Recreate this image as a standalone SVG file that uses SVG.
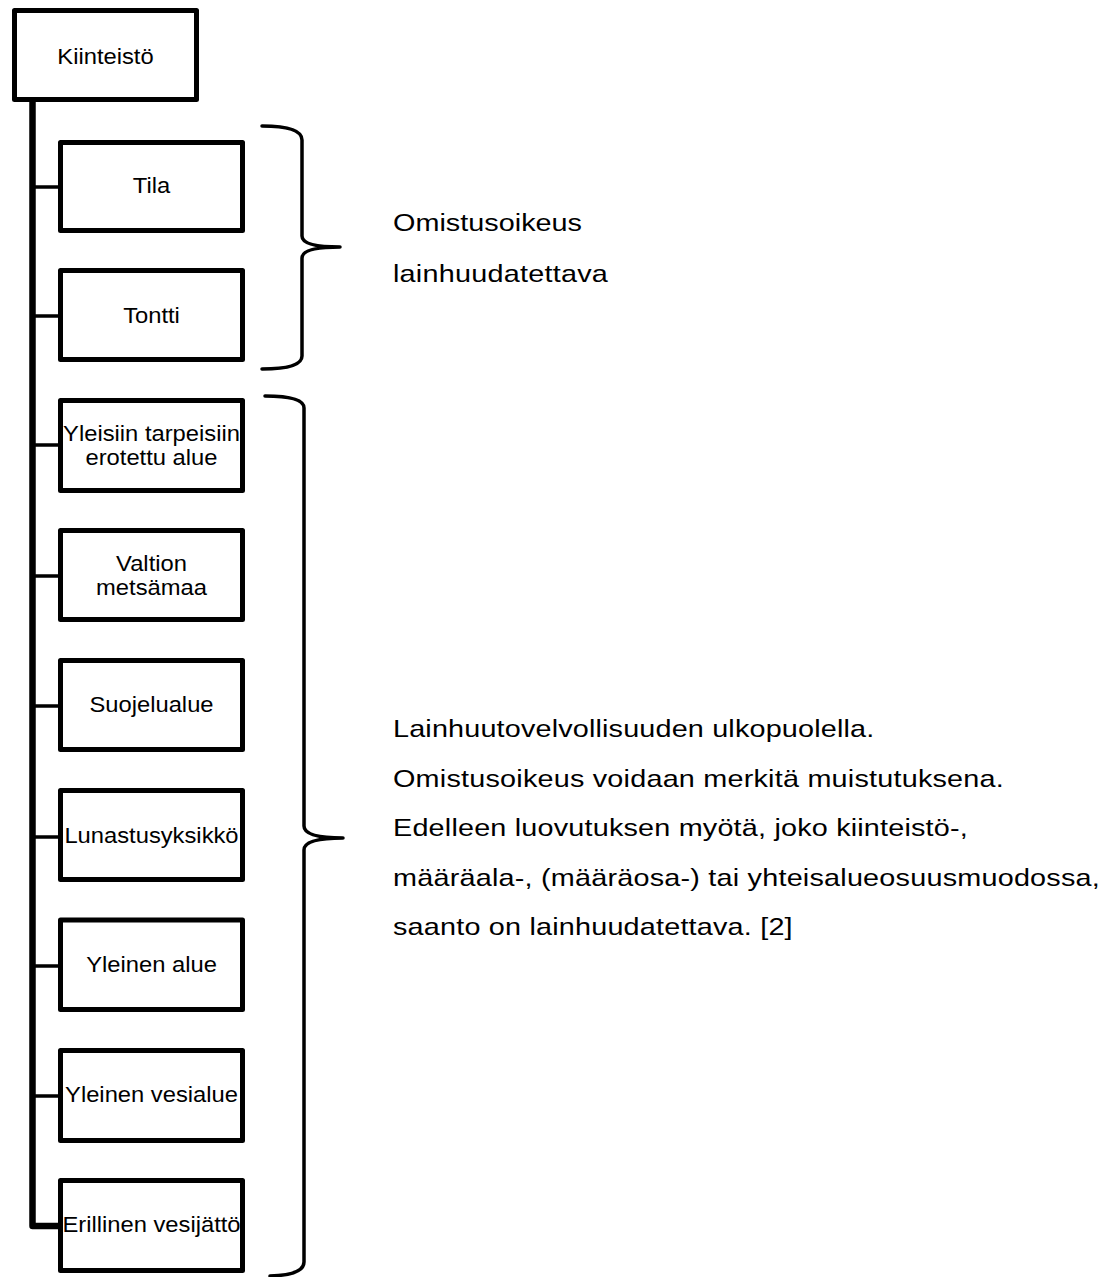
<svg xmlns="http://www.w3.org/2000/svg" width="1120" height="1277" viewBox="0 0 1120 1277">
<style>
.box{fill:#fff;stroke:#000;stroke-width:5;stroke-linejoin:round}
.bt{font-family:"Liberation Sans",Arial,sans-serif;font-size:22px;fill:#000;text-anchor:middle}
.rt{font-family:"Liberation Sans",Arial,sans-serif;font-size:24px;fill:#000}
.br{fill:none;stroke:#000;stroke-width:3.5;stroke-linecap:round;stroke-linejoin:round}
.trunk{fill:none;stroke:#000;stroke-width:6.5;stroke-linejoin:round}
.branch{fill:none;stroke:#000;stroke-width:3.5}
</style>
<rect width="1120" height="1277" fill="#fff"/>
<g id="connectors">
<path class="trunk" d="M32.5 100 V1226 H60"/>
<path class="branch" d="M32 187 H60 M32 316 H60 M32 445 H60 M32 576 H60 M32 706 H60 M32 837 H60 M32 966 H60 M32 1096 H60"/>
</g>
<g id="n-kiinteisto"><rect class="box" x="14.5" y="10.5" width="182" height="89"/><text class="bt" transform="translate(105.5,64) scale(1.08,1)">Kiinteistö</text></g>
<g id="n-tila"><rect class="box" x="60.5" y="142.5" width="182" height="88"/><text class="bt" transform="translate(151.5,193) scale(1.08,1)">Tila</text></g>
<g id="n-tontti"><rect class="box" x="60.5" y="270.5" width="182" height="89"/><text class="bt" transform="translate(151.5,323) scale(1.08,1)">Tontti</text></g>
<g id="n-yleisiin"><rect class="box" x="60.5" y="400.5" width="182" height="90"/><text class="bt" transform="translate(151.5,441) scale(1.08,1)">Yleisiin tarpeisiin</text><text class="bt" transform="translate(151.5,465) scale(1.08,1)">erotettu alue</text></g>
<g id="n-valtion"><rect class="box" x="60.5" y="530.5" width="182" height="89"/><text class="bt" transform="translate(151.5,571) scale(1.08,1)">Valtion</text><text class="bt" transform="translate(151.5,595) scale(1.08,1)">metsämaa</text></g>
<g id="n-suojelualue"><rect class="box" x="60.5" y="660.5" width="182" height="89"/><text class="bt" transform="translate(151.5,712) scale(1.08,1)">Suojelualue</text></g>
<g id="n-lunastus"><rect class="box" x="60.5" y="790.5" width="182" height="89"/><text class="bt" transform="translate(151.5,843) scale(1.08,1)">Lunastusyksikkö</text></g>
<g id="n-yleinenalue"><rect class="box" x="60.5" y="920" width="182" height="89.5"/><text class="bt" transform="translate(151.5,972) scale(1.08,1)">Yleinen alue</text></g>
<g id="n-vesialue"><rect class="box" x="60.5" y="1050.5" width="182" height="90"/><text class="bt" transform="translate(151.5,1102) scale(1.08,1)">Yleinen vesialue</text></g>
<g id="n-vesijatto"><rect class="box" x="60.5" y="1180.5" width="182" height="90"/><text class="bt" transform="translate(151.5,1232) scale(1.08,1)">Erillinen vesijättö</text></g>
<g id="brace1"><path class="br" d="M262 126 Q302 126 302 140 V236 Q302 247 340 247 Q302 247 302 258 V356 Q302 369 262 369"/></g>
<g id="brace2"><path class="br" d="M265 396 Q304 396 304 408 V826 Q304 838 343 838 Q304 838 304 850 V1262 Q304 1275 270 1276"/></g>
<g id="label1">
<text class="rt" transform="translate(393,231) scale(1.2,1)" textLength="157.5">Omistusoikeus</text>
<text class="rt" transform="translate(393,282) scale(1.2,1)" textLength="179">lainhuudatettava</text>
</g>
<g id="label2">
<text class="rt" transform="translate(393,737) scale(1.2,1)" textLength="401">Lainhuutovelvollisuuden ulkopuolella.</text>
<text class="rt" transform="translate(393,787) scale(1.2,1)" textLength="509">Omistusoikeus voidaan merkitä muistutuksena.</text>
<text class="rt" transform="translate(393,836) scale(1.2,1)" textLength="479">Edelleen luovutuksen myötä, joko kiinteistö-,</text>
<text class="rt" transform="translate(393,886) scale(1.2,1)" textLength="589">määräala-, (määräosa-) tai yhteisalueosuusmuodossa,</text>
<text class="rt" transform="translate(393,935) scale(1.2,1)" textLength="333">saanto on lainhuudatettava. [2]</text>
</g>
</svg>
